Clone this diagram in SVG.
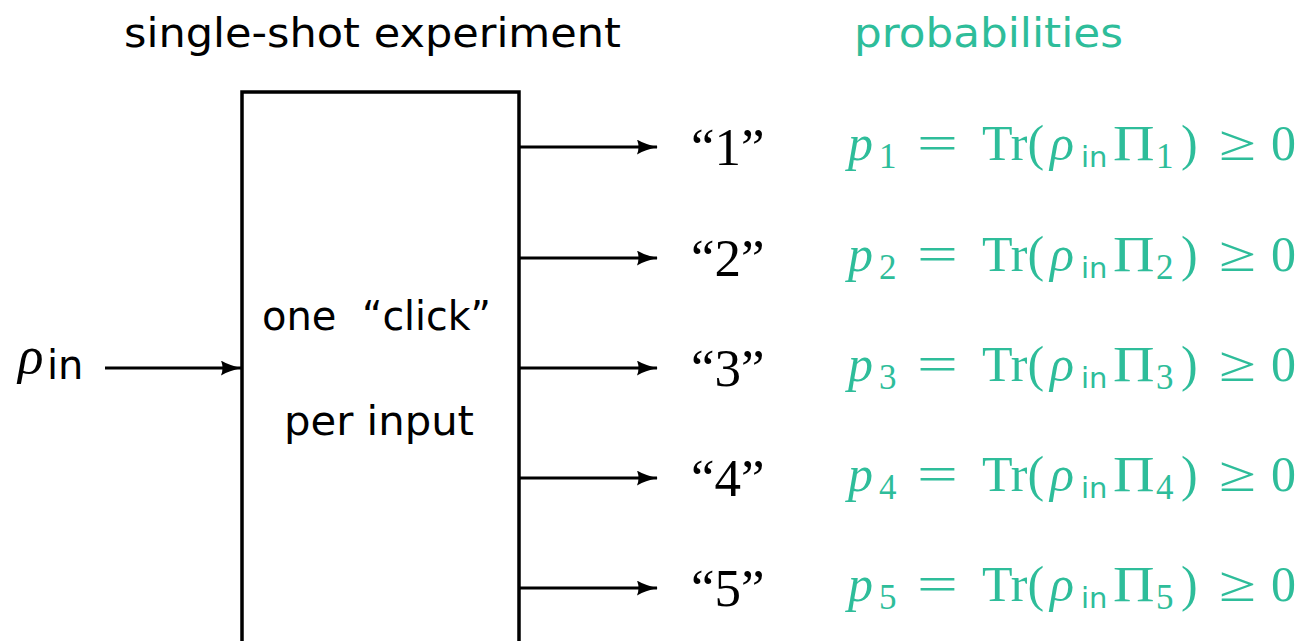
<svg xmlns="http://www.w3.org/2000/svg" width="1311" height="641" viewBox="0 0 1311 641">
<defs>
<marker id="ah" markerWidth="21" markerHeight="15" refX="20" refY="7.5" orient="auto" markerUnits="userSpaceOnUse" viewBox="0 0 21 15">
<path d="M0,0 Q8,5 21,7.5 Q8,10 0,15 Q3,7.5 0,0 Z" fill="#000"/>
</marker>
<style>
.sans{font-family:"DejaVu Sans","Liberation Sans",sans-serif;font-size:40px;fill:#000}
.lab{font-family:"Liberation Serif","DejaVu Serif",serif;font-size:53px;fill:#000}
.m{font-family:"Liberation Serif","DejaVu Serif",serif;font-size:50px;fill:#2EBD9A}
.it{font-style:italic}
.sb{font-size:35px}
.si{font-family:"DejaVu Sans",sans-serif;font-size:29px;fill:#2EBD9A}
.conn{stroke:#000;stroke-width:3;fill:none;marker-end:url(#ah)}
</style>
</defs>
<rect width="1311" height="641" fill="#fff"/>
<text class="sans" x="124" y="47" font-size="43" textLength="497" lengthAdjust="spacingAndGlyphs">single-shot experiment</text>
<text class="sans" x="854" y="47" font-size="44" textLength="269" lengthAdjust="spacingAndGlyphs" style="fill:#2EBD9A">probabilities</text>
<g id="box">
<path d="M242,641 V92 H519 V641" fill="none" stroke="#000" stroke-width="3.5"/>
<text class="sans" x="262" y="330">one</text>
<text class="sans" x="362" y="330" textLength="129" lengthAdjust="spacingAndGlyphs">“click”</text>
<text class="sans" x="284" y="435" font-size="41" textLength="190" lengthAdjust="spacingAndGlyphs">per input</text>
</g>
<g id="input">
<text class="lab it" x="18" y="373" font-size="60">ρ</text>
<text class="sans" x="47" y="379" font-size="32">in</text>
</g>
<g id="connectors">
<line class="conn" x1="105" y1="368" x2="241" y2="368"/>
<line class="conn" x1="519" y1="147" x2="657" y2="147"/>
<line class="conn" x1="519" y1="258" x2="657" y2="258"/>
<line class="conn" x1="519" y1="368" x2="657" y2="368"/>
<line class="conn" x1="519" y1="478" x2="657" y2="478"/>
<line class="conn" x1="519" y1="588" x2="657" y2="588"/>
</g>
<g id="out1">
<text class="lab" x="691" y="165">“1”</text>
<g>
<text class="m it" x="848" y="160">p</text><text class="m sb" x="879" y="168">1</text>
<text class="m" transform="translate(917,160) scale(1.45,1)">=</text>
<text class="m" x="982" y="160">Tr(</text>
<text class="m it" x="1050" y="160" font-size="57">ρ</text><text class="si" x="1081" y="167">in</text>
<text class="m" transform="translate(1113,160) scale(1.15,1)" font-size="54">Π</text><text class="m sb" x="1156" y="168">1</text>
<text class="m" x="1181" y="160">)</text>
<text class="m" transform="translate(1219,160) scale(1.35,1)">≥</text>
<text class="m" x="1271" y="160">0</text>
</g>
</g>
<g id="out2">
<text class="lab" x="691" y="276">“2”</text>
<g transform="translate(0,111)">
<text class="m it" x="848" y="160">p</text><text class="m sb" x="879" y="168">2</text>
<text class="m" transform="translate(917,160) scale(1.45,1)">=</text>
<text class="m" x="982" y="160">Tr(</text>
<text class="m it" x="1050" y="160" font-size="57">ρ</text><text class="si" x="1081" y="167">in</text>
<text class="m" transform="translate(1113,160) scale(1.15,1)" font-size="54">Π</text><text class="m sb" x="1156" y="168">2</text>
<text class="m" x="1181" y="160">)</text>
<text class="m" transform="translate(1219,160) scale(1.35,1)">≥</text>
<text class="m" x="1271" y="160">0</text>
</g>
</g>
<g id="out3">
<text class="lab" x="691" y="386">“3”</text>
<g transform="translate(0,221)">
<text class="m it" x="848" y="160">p</text><text class="m sb" x="879" y="168">3</text>
<text class="m" transform="translate(917,160) scale(1.45,1)">=</text>
<text class="m" x="982" y="160">Tr(</text>
<text class="m it" x="1050" y="160" font-size="57">ρ</text><text class="si" x="1081" y="167">in</text>
<text class="m" transform="translate(1113,160) scale(1.15,1)" font-size="54">Π</text><text class="m sb" x="1156" y="168">3</text>
<text class="m" x="1181" y="160">)</text>
<text class="m" transform="translate(1219,160) scale(1.35,1)">≥</text>
<text class="m" x="1271" y="160">0</text>
</g>
</g>
<g id="out4">
<text class="lab" x="691" y="496">“4”</text>
<g transform="translate(0,331)">
<text class="m it" x="848" y="160">p</text><text class="m sb" x="879" y="168">4</text>
<text class="m" transform="translate(917,160) scale(1.45,1)">=</text>
<text class="m" x="982" y="160">Tr(</text>
<text class="m it" x="1050" y="160" font-size="57">ρ</text><text class="si" x="1081" y="167">in</text>
<text class="m" transform="translate(1113,160) scale(1.15,1)" font-size="54">Π</text><text class="m sb" x="1156" y="168">4</text>
<text class="m" x="1181" y="160">)</text>
<text class="m" transform="translate(1219,160) scale(1.35,1)">≥</text>
<text class="m" x="1271" y="160">0</text>
</g>
</g>
<g id="out5">
<text class="lab" x="691" y="606">“5”</text>
<g transform="translate(0,441)">
<text class="m it" x="848" y="160">p</text><text class="m sb" x="879" y="168">5</text>
<text class="m" transform="translate(917,160) scale(1.45,1)">=</text>
<text class="m" x="982" y="160">Tr(</text>
<text class="m it" x="1050" y="160" font-size="57">ρ</text><text class="si" x="1081" y="167">in</text>
<text class="m" transform="translate(1113,160) scale(1.15,1)" font-size="54">Π</text><text class="m sb" x="1156" y="168">5</text>
<text class="m" x="1181" y="160">)</text>
<text class="m" transform="translate(1219,160) scale(1.35,1)">≥</text>
<text class="m" x="1271" y="160">0</text>
</g>
</g>
</svg>
